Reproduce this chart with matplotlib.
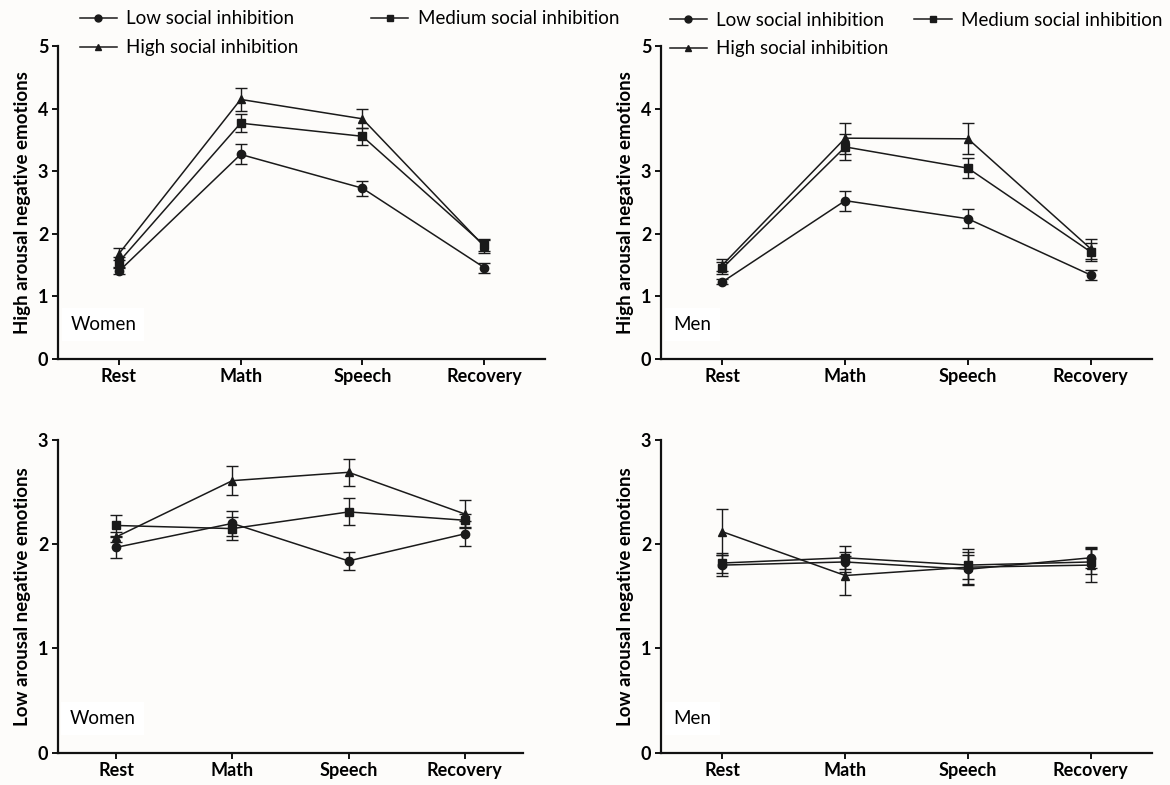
import numpy as np
import matplotlib.pyplot as plt
from matplotlib.lines import Line2D

plt.rcParams['font.family'] = ['Lato', 'DejaVu Sans']

phases = ['Rest', 'Math', 'Speech', 'Recovery']
groups = ['Low social inhibition', 'Medium social inhibition', 'High social inhibition']
markers = ['o', 's', '^']

# high arousal negative emotions - women
w_high_low = [1.40, 3.27, 2.73, 1.46]
w_high_low_err = [0.05, 0.16, 0.12, 0.08]
w_high_med = [1.55, 3.77, 3.56, 1.82]
w_high_med_err = [0.08, 0.14, 0.14, 0.10]
w_high_high = [1.68, 4.15, 3.84, 1.80]
w_high_high_err = [0.10, 0.18, 0.15, 0.10]

# high arousal negative emotions - men
m_high_low = [1.23, 2.53, 2.24, 1.34]
m_high_low_err = [0.04, 0.16, 0.15, 0.08]
m_high_med = [1.45, 3.39, 3.05, 1.71]
m_high_med_err = [0.10, 0.21, 0.16, 0.14]
m_high_high = [1.50, 3.53, 3.52, 1.76]
m_high_high_err = [0.10, 0.25, 0.25, 0.16]

# low arousal negative emotions - women
w_low_low = [1.97, 2.20, 1.84, 2.10]
w_low_low_err = [0.10, 0.12, 0.09, 0.12]
w_low_med = [2.18, 2.15, 2.31, 2.23]
w_low_med_err = [0.10, 0.11, 0.13, 0.06]
w_low_high = [2.07, 2.61, 2.69, 2.29]
w_low_high_err = [0.05, 0.14, 0.13, 0.13]

# low arousal negative emotions - men
m_low_low = [1.80, 1.83, 1.76, 1.87]
m_low_low_err = [0.10, 0.10, 0.14, 0.10]
m_low_med = [1.82, 1.87, 1.80, 1.83]
m_low_med_err = [0.10, 0.11, 0.13, 0.12]
m_low_high = [2.12, 1.70, 1.78, 1.80]
m_low_high_err = [0.22, 0.19, 0.17, 0.16]

bg = '#fdfcfa'
ink = '#1a1a1a'
fig = plt.figure(figsize=(11.7, 7.85), dpi=100, facecolor=bg)

panels = [
    ([0.0496, 0.543, 0.4162, 0.398], 5, 'High arousal negative emotions', 'Women',
     [w_high_low, w_high_med, w_high_high], [w_high_low_err, w_high_med_err, w_high_high_err]),
    ([0.565, 0.543, 0.4197, 0.398], 5, 'High arousal negative emotions', 'Men',
     [m_high_low, m_high_med, m_high_high], [m_high_low_err, m_high_med_err, m_high_high_err]),
    ([0.0496, 0.0411, 0.3974, 0.3984], 3, 'Low arousal negative emotions', 'Women',
     [w_low_low, w_low_med, w_low_high], [w_low_low_err, w_low_med_err, w_low_high_err]),
    ([0.565, 0.0411, 0.4197, 0.3984], 3, 'Low arousal negative emotions', 'Men',
     [m_low_low, m_low_med, m_low_high], [m_low_low_err, m_low_med_err, m_low_high_err]),
]

x = np.arange(len(phases))
for rect, ymax, ylab, sex, means, errs in panels:
    ax = fig.add_axes(rect)
    ax.set_facecolor(bg)
    for m, e, mk in zip(means, errs, markers):
        ax.errorbar(x, m, yerr=e, marker=mk, color=ink, lw=1.1, markersize=6,
                    elinewidth=1.0, capsize=4, capthick=1.0)
    ax.set_xlim(-0.5, 3.5)
    ax.set_ylim(0, ymax)
    ax.set_yticks(range(ymax + 1))
    ax.set_xticks(x)
    ax.set_xticklabels(phases)
    for s in ['top', 'right']:
        ax.spines[s].set_visible(False)
    for s in ['left', 'bottom']:
        ax.spines[s].set_linewidth(1.6)
        ax.spines[s].set_color('#111111')
    ax.tick_params(width=1.4, length=4, labelsize=13, pad=3, color='#111111')
    for lab in ax.get_xticklabels() + ax.get_yticklabels():
        lab.set_fontweight('bold')
    ax.set_ylabel(ylab, fontsize=13.5, fontweight='bold', labelpad=5)
    ax.text(0.025, 0.11, sex, transform=ax.transAxes, fontsize=13.5, va='center', ha='left',
            bbox=dict(facecolor='white', edgecolor='none', pad=6))

# legends: row 1 Low / Medium, row 2 High
handles = [Line2D([0], [0], color=ink, lw=1.1, marker=mk, markersize=5) for mk in markers]
order = [0, 2, 1]
for anchor, cs in [((72 / 1170, 1 - 3 / 785), 3.85), ((662 / 1170, 1 - 4 / 785), 1.35)]:
    fig.legend([handles[i] for i in order], [groups[i] for i in order], loc='upper left',
               bbox_to_anchor=anchor, ncol=2, frameon=False, fontsize=13.5,
               handlelength=2.0, handletextpad=0.5, columnspacing=cs,
               labelspacing=0.62, borderaxespad=0.0)

fig.savefig('out.png', dpi=100, facecolor=bg)
